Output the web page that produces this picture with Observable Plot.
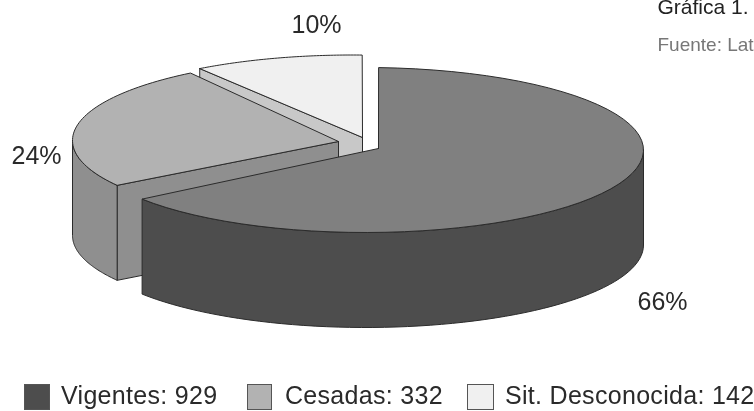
<!DOCTYPE html>
<html><head><meta charset="utf-8">
<script src="https://cdn.jsdelivr.net/npm/d3@7"></script>
<script src="https://cdn.jsdelivr.net/npm/@observablehq/plot@0.6"></script>
<style>
html,body{margin:0;padding:0;background:#fff;width:754px;height:411px;overflow:hidden;font-family:"Liberation Sans",sans-serif}
#chart{filter:blur(.5px)}
#chart svg{display:block;font-family:"Liberation Sans",sans-serif}
#legend{position:absolute;left:0;top:375px;width:754px;height:36px;filter:blur(.5px)}
#legend .sw{position:absolute;top:9px;height:26px;box-sizing:border-box;border:1px solid #555}
#legend .tx{position:absolute;top:6px;font-size:25px;line-height:28px;letter-spacing:.3px;color:#2a2a2a;white-space:nowrap}
</style></head><body>
<div id="chart"></div><div id="legend"></div>
<script>
const categories=["Vigentes","Cesadas","Sit. Desconocida"];
const counts=[929,332,142];
const percentLabels=["66%","24%","10%"];
const topColors=["#808080","#b2b2b2","#f0f0f0"];
const wallColors=["#4d4d4d","#8f8f8f","#c8c8c8"];
const legendColors=["#4d4d4d","#b2b2b2","#f0f0f0"];
const W=754,H=375,RX=278,RY=82.5,DEPTH=95;
const deg=Math.PI/180;
// angle spans come from the counts; layout holds the exploded offsets and the drawing's slight distortion
const pie=d3.pie().sort(null)(counts);
const layout=[
 {cx:365,cy:149.5,ax:378,ay:148,t0:2.7,t1:-4.9},
 {cx:350,cy:140,ax:338,ay:141,t0:-1.3,t1:1.3},
 {cx:352,cy:137,ax:362,ay:137,t0:3.1,t1:2}
];
const slices=pie.map((p,i)=>({i,a0:p.startAngle/deg+layout[i].t0,a1:p.endAngle/deg+layout[i].t1,...layout[i]}));
const pt=(s,a,d=0)=>({x:s.cx+RX*Math.sin(a*deg),y:s.cy-RY*Math.cos(a*deg)+d});
const arc=(s,a,b,d=0)=>d3.range(0,61).map(k=>pt(s,a+(b-a)*k/60,d));
const poly=(pts,fill)=>Plot.line([...pts,pts[0]],{x:"x",y:"y",fill,stroke:"#2b2b2b",strokeWidth:1,strokeLinejoin:"round"});
const apex=s=>({x:s.ax,y:s.ay});
const down=p=>({x:p.x,y:p.y+DEPTH});
function sliceMarks(s){
 const m=[];
 const top=[apex(s),...arc(s,s.a0,s.a1)];
 const wall=wallColors[s.i];
 if(s.i===0){
  const a=arc(s,90,s.a1);
  m.push(poly([...a,...a.slice().reverse().map(down)],wall));
 }
 if(s.i===1){
  const e=pt(s,s.a0);
  m.push(poly([e,apex(s),down(apex(s)),down(e)],wall));
  const a=arc(s,s.a0,270);
  m.push(poly([...a,...a.slice().reverse().map(down)],wall));
 }
 if(s.i===2){
  const e=pt(s,s.a0);
  m.push(poly([e,apex(s),down(apex(s)),down(e)],wall));
 }
 m.push(poly(top,topColors[s.i]));
 return m;
}
const labelData=[
 {t:percentLabels[0],x:662,y:301},
 {t:percentLabels[1],x:36,y:155},
 {t:percentLabels[2],x:316,y:24}
];
const order=[2,1,0];
const plot=Plot.plot({
 width:W,height:H,margin:0,
 x:{domain:[0,W],range:[0,W],axis:null},
 y:{domain:[0,H],range:[0,H],axis:null},
 marks:[
  ...order.flatMap(i=>sliceMarks(slices[i])),
  Plot.text(labelData,{x:"x",y:"y",text:"t",fontSize:25,fill:"#2a2a2a"}),
  Plot.text(["EVOLUCIÓN DEBIDA"],{x:()=>12,y:()=>-9,text:d=>d,textAnchor:"start",fontSize:24,fontWeight:"bold",fill:"#333"}),
  Plot.text(["Gráfica 1."],{x:()=>657,y:()=>7,text:d=>d,textAnchor:"start",fontSize:21,fill:"#222"}),
  Plot.text(["Fuente: Lat"],{x:()=>657,y:()=>44,text:d=>d,textAnchor:"start",fontSize:19,fill:"#777"})
 ]
});
document.getElementById("chart").append(plot);
const lg=document.getElementById("legend");
const swX=[24,247,467],swW=[26,25,27],txX=[61,285,505];
categories.forEach((c,i)=>{
 const s=document.createElement("div");s.className="sw";s.style.left=swX[i]+"px";s.style.width=swW[i]+"px";s.style.background=legendColors[i];lg.append(s);
 const t=document.createElement("div");t.className="tx";t.style.left=txX[i]+"px";t.textContent=c+": "+counts[i];lg.append(t);
});
</script></body></html>
